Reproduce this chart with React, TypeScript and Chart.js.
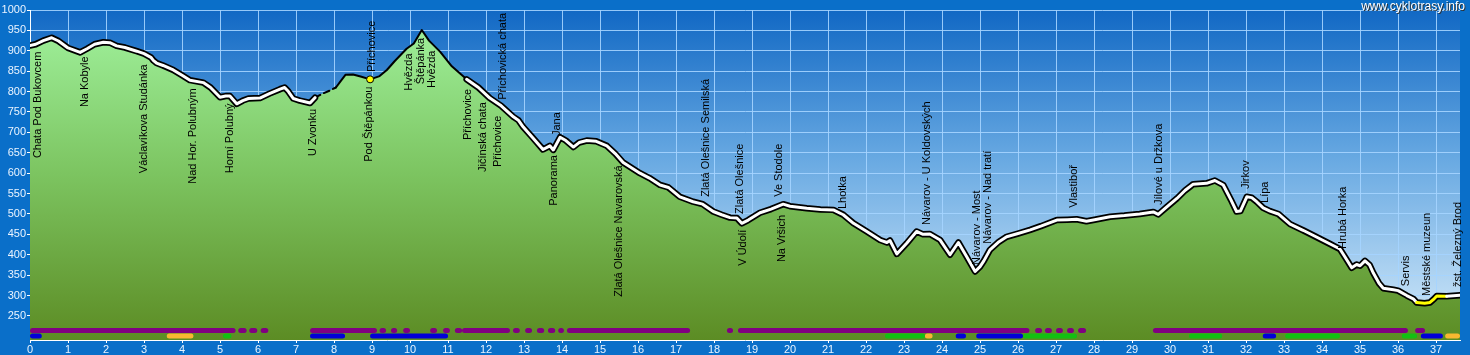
import React, { useEffect, useRef } from "react";
import { Chart, registerables } from "chart.js";

Chart.register(...registerables);

// ---- data ----
const profileKm = [
  0.0, 0.15, 0.35, 0.57, 0.75, 1.0, 1.32, 1.5, 1.7, 1.93, 2.1, 2.28, 2.5, 2.81, 3.0, 3.18, 3.25, 3.33, 3.5, 3.77,
  4.0, 4.21, 4.56, 4.75, 5.0, 5.15, 5.26, 5.44, 5.6, 5.75, 6.05, 6.3, 6.58, 6.7, 6.8, 6.93, 7.1, 7.37, 7.5, 7.7,
  7.9, 8.05, 8.16, 8.3, 8.5, 8.7, 8.95, 9.2, 9.39, 9.6, 9.91, 10.1, 10.31, 10.5, 10.79, 11.1, 11.49, 11.8, 12.1, 12.4,
  12.72, 12.85, 12.98, 13.2, 13.5, 13.68, 13.77, 13.95, 14.1, 14.3, 14.45, 14.65, 14.9, 15.18, 15.4, 15.61, 16.05, 16.3, 16.58, 16.8,
  17.1, 17.45, 17.7, 17.98, 18.2, 18.42, 18.6, 18.73, 18.9, 19.21, 19.5, 19.82, 20.0, 20.44, 20.8, 21.14, 21.4, 21.67, 22.0, 22.37,
  22.55, 22.63, 22.81, 23.07, 23.33, 23.5, 23.68, 23.95, 24.21, 24.43, 24.65, 24.87, 25.0, 25.1, 25.26, 25.5, 25.7, 26.0, 26.32, 26.6,
  27.02, 27.3, 27.54, 27.8, 27.98, 28.42, 28.8, 29.2, 29.56, 29.69, 29.9, 30.18, 30.4, 30.61, 30.96, 31.18, 31.4, 31.6, 31.75, 31.85,
  32.02, 32.15, 32.28, 32.45, 32.63, 32.85, 33.16, 33.5, 33.8, 34.2, 34.47, 34.6, 34.78, 34.91, 35.0, 35.13, 35.25, 35.35, 35.5, 35.61,
  35.88, 36.0, 36.23, 36.4, 36.49, 36.7, 36.84, 36.95, 37.02, 37.28, 37.63,
];
const profileElev = [
  913, 916, 925, 932, 924, 907, 896, 905, 916, 921, 920, 912, 908, 899, 893, 884, 876, 870, 864, 853,
  840, 828, 822, 810, 786, 789, 789, 770, 778, 783, 784, 795, 806, 810, 800, 783, 778, 772, 785, 795,
  803, 810, 824, 841, 842, 837, 830, 838, 853, 875, 905, 918, 951, 925, 898, 862, 830, 810, 784, 765,
  738, 730, 713, 690, 658, 667, 657, 688, 680, 664, 675, 680, 678, 667, 648, 626, 600, 588, 571, 565,
  542, 530, 524, 506, 498, 491, 490, 477, 485, 503, 512, 524, 519, 514, 511, 510, 498, 477, 458, 436,
  430, 435, 402, 428, 457, 450, 451, 436, 400, 430, 395, 359, 371, 385, 412, 432, 444, 452, 461, 470,
  485, 486, 487, 482, 485, 493, 496, 500, 505, 499, 516, 538, 558, 573, 575, 582, 571, 535, 506, 507,
  542, 540, 530, 515, 507, 500, 475, 460, 446, 427, 414, 395, 368, 376, 373, 385, 375, 355, 330, 318,
  314, 312, 300, 292, 283, 281, 283, 292, 299, 298, 301,
];

const xTickValues = [0,1,2,3,4,5,6,7,8,9,10,11,12,13,14,15,16,17,18,19,20,21,22,23,24,25,26,27,28,29,30,31,32,33,34,35,36,37];
const yTickValues = [250,300,350,400,450,500,550,600,650,700,750,800,850,900,950,1000];

const labelNames = [
  "Chata Pod Bukovcem", "Na Kobyle", "Václavíkova Studánka", "Nad Hor. Polubným", "Horní Polubný",
  "U Zvonku", "Pod Štěpánkou", "Příchovice", "Hvězda", "Štěpánka", "Hvězda", "Příchovice",
  "Jičínská chata", "Příchovice", "Příchovická chata", "Jana", "Panorama", "Zlatá Olešnice Navarovská",
  "Zlatá Olešnice Semilská", "Zlatá Olešnice", "V Údolí", "Ve Stodole", "Na Vršich", "Lhotka",
  "Návarov - U Koldovských", "Návarov - Most", "Návarov - Nad tratí", "Vlastiboř", "Jílové u Držkova",
  "Jirkov", "Lípa", "Hrubá Horka", "Servis", "Městské muzeun", "žst. Železný Brod",
];
const labelKm = [
  0.2, 1.45, 2.99, 4.28, 5.26, 7.45, 8.91, 9.0, 9.97, 10.3, 10.57, 11.53, 11.91, 12.32, 12.45, 13.86, 13.8,
  15.51, 17.78, 18.67, 18.76, 19.7, 19.78, 21.39, 23.6, 24.91, 25.21, 27.47, 29.7, 32.01, 32.5, 34.55,
  36.22, 36.75, 37.58,
];
const labelElev = [
  637, 762, 600, 574, 600, 642, 628, 848, 802, 818, 809, 681, 603, 615, 780, 691, 520,
  297, 542, 500, 373, 542, 382, 512, 473, 375, 427, 515, 522, 561, 527, 414,
  323, 299, 321,
];

const purpleBands = [
  [0.0, 5.41], [5.48, 5.7], [5.77, 5.98], [6.07, 6.27],
  [7.37, 9.13], [9.2, 9.37], [9.5, 9.66], [9.82, 10.0], [10.53, 10.71], [10.87, 11.05], [11.18, 11.37],
  [11.37, 12.63], [12.71, 12.89], [13.03, 13.21], [13.34, 13.53], [13.63, 13.82], [13.9, 14.05],
  [14.13, 17.37], [18.34, 18.5], [18.63, 26.3], [26.45, 26.63], [26.71, 26.89], [27.0, 27.18],
  [27.29, 27.47], [27.58, 27.79], [29.55, 36.26], [36.45, 36.71],
];
const blueBands = [[0.0, 0.31], [7.37, 8.29], [8.95, 11.0], [24.36, 24.63], [24.9, 26.13], [32.44, 32.79], [36.6, 37.18]];
const greenBands = [[5.08, 5.3], [22.5, 23.55], [26.13, 27.55], [30.5, 31.37], [33.03, 34.47], [36.1, 36.5]];
const orangeBands = [[3.6, 4.3], [23.55, 23.75], [37.24, 37.63]];

const blackOnlyRange = [7.45, 11.5];
const dashedRange = [7.45, 8.05];
const yellowRange = [36.45, 37.3];
const markerKm = [8.95];
const markerElev = [830];

const purpleLevel = 214;
const lowerLevel = 201;

// ---- helpers ----
const FONT = '"Liberation Sans", Arial, sans-serif';
const capKm = 0.065;

function bandData(bands: number[][], level: number) {
  const out: { x: number; y: number | null }[] = [];
  bands.forEach(([a, b]) => {
    let s = a + capKm;
    let e = b - capKm;
    if (e < s) { const m = (a + b) / 2; s = m; e = m + 0.001; }
    out.push({ x: s, y: level }, { x: e, y: level }, { x: e, y: null });
  });
  return out;
}

const inRange = (k: number, r: number[]) => k >= r[0] && k < r[1];

const bgPlugin = {
  id: "bgPlugin",
  beforeDraw(chart: any) {
    const { ctx, chartArea: a, width, height } = chart;
    ctx.save();
    ctx.fillStyle = "#0a6fc9";
    ctx.fillRect(0, 0, width, height);
    const g = ctx.createLinearGradient(0, a.top, 0, a.bottom);
    g.addColorStop(0, "#1168c4");
    g.addColorStop(0.45, "#68a9e2");
    g.addColorStop(1, "#d6ebfa");
    ctx.fillStyle = g;
    ctx.fillRect(a.left, a.top, a.right - a.left, a.bottom - a.top);
    ctx.restore();
  },
};

const labelPlugin = {
  id: "labelPlugin",
  afterDatasetsDraw(chart: any) {
    const { ctx, scales } = chart;
    ctx.save();
    ctx.font = `11px ${FONT}`;
    ctx.fillStyle = "#000000";
    ctx.textAlign = "left";
    ctx.textBaseline = "middle";
    labelNames.forEach((name, i) => {
      const x = scales.x.getPixelForValue(labelKm[i]);
      const y = scales.y.getPixelForValue(labelElev[i]);
      ctx.save();
      ctx.translate(x, y);
      ctx.rotate(-Math.PI / 2);
      ctx.fillText(name, 0, 0);
      ctx.restore();
    });
    ctx.restore();
  },
  afterDraw(chart: any) {
    const { ctx, width } = chart;
    ctx.save();
    ctx.font = `12px ${FONT}`;
    ctx.textAlign = "right";
    ctx.textBaseline = "top";
    ctx.fillStyle = "#303030";
    ctx.fillText("www.cyklotrasy.info", width - 4, 2);
    ctx.fillStyle = "#ffffff";
    ctx.fillText("www.cyklotrasy.info", width - 5, 1);
    ctx.restore();
  },
};

export default function App() {
  const ref = useRef<HTMLCanvasElement | null>(null);

  useEffect(() => {
    if (!ref.current) return;
    const profile = profileKm.map((k, i) => ({ x: k, y: profileElev[i] }));
    const markers = markerKm.map((k, i) => ({ x: k, y: markerElev[i] }));

    const bandDs = (data: any, color: string, order: number) => ({
      type: "line" as const,
      data,
      borderColor: color,
      borderWidth: 5,
      borderCapStyle: "round",
      pointRadius: 0,
      fill: false,
      spanGaps: false,
      order,
    });

    const chart = new Chart(ref.current, {
      type: "line",
      data: {
        datasets: [
          {
            data: profile,
            borderWidth: 0,
            borderColor: "rgba(0,0,0,0)",
            pointRadius: 0,
            fill: "start",
            backgroundColor: (c: any) => {
              const a = c.chart.chartArea;
              if (!a) return "#7cc460";
              const g = c.chart.ctx.createLinearGradient(0, a.top, 0, a.bottom);
              g.addColorStop(0, "#a2f4a0");
              g.addColorStop(0.5, "#7cc460");
              g.addColorStop(1, "#5c8c24");
              return g;
            },
            order: 10,
          },
          {
            data: profile,
            borderColor: "#000000",
            borderWidth: 6.5,
            borderJoinStyle: "round",
            borderCapStyle: "round",
            pointRadius: 0,
            fill: false,
            segment: {
              borderWidth: (c: any) => {
                const k = (c.p0.parsed.x + c.p1.parsed.x) / 2;
                return inRange(k, blackOnlyRange) ? 2 : undefined;
              },
              borderDash: (c: any) => {
                const k = (c.p0.parsed.x + c.p1.parsed.x) / 2;
                return inRange(k, dashedRange) ? [6, 4] : undefined;
              },
            },
            order: 9,
          },
          {
            data: profile,
            borderColor: "#ffffff",
            borderWidth: 3,
            borderJoinStyle: "round",
            borderCapStyle: "round",
            pointRadius: 0,
            fill: false,
            segment: {
              borderColor: (c: any) => {
                const k = (c.p0.parsed.x + c.p1.parsed.x) / 2;
                if (inRange(k, blackOnlyRange)) return "rgba(0,0,0,0)";
                if (inRange(k, yellowRange)) return "#ffff00";
                return undefined;
              },
            },
            order: 8,
          },
          bandDs(bandData(purpleBands, purpleLevel), "#800080", 7),
          bandDs(bandData(blueBands, lowerLevel), "#0000d8", 6),
          bandDs(bandData(greenBands, lowerLevel), "#12c012", 5),
          bandDs(bandData(orangeBands, lowerLevel), "#f8b830", 4),
          {
            data: markers,
            showLine: false,
            pointRadius: 3.5,
            pointBackgroundColor: "#ffff00",
            pointBorderColor: "#000000",
            pointBorderWidth: 1,
            order: 1,
          },
        ] as any,
      },
      options: {
        animation: false,
        responsive: false,
        devicePixelRatio: 1,
        layout: { padding: { left: 0, right: 10, top: 10, bottom: 0 } },
        plugins: { legend: { display: false }, tooltip: { enabled: false } },
        elements: { line: { tension: 0 } },
        scales: {
          x: {
            type: "linear",
            min: 0,
            max: 37.63,
            afterBuildTicks: (s: any) => { s.ticks = xTickValues.map((v) => ({ value: v })); },
            afterFit: (s: any) => { s.height = 15; },
            grid: { color: "rgba(165,212,255,0.9)", lineWidth: 1, tickLength: 3, tickColor: "#ffffff" },
            border: { color: "#ffffff", width: 1 },
            ticks: {
              autoSkip: false,
              maxRotation: 0,
              padding: 0,
              color: "#eaf4ff",
              font: { family: FONT, size: 11 },
              callback: (v: any) => String(v),
            },
          },
          y: {
            type: "linear",
            min: 191,
            max: 1000,
            afterBuildTicks: (s: any) => { s.ticks = yTickValues.map((v) => ({ value: v })); },
            afterFit: (s: any) => { s.width = 30; },
            grid: { color: "rgba(165,212,255,0.9)", lineWidth: 1, tickLength: 3, tickColor: "#ffffff" },
            border: { color: "#ffffff", width: 1 },
            ticks: {
              padding: 1,
              color: "#eaf4ff",
              font: { family: FONT, size: 11 },
              callback: (v: any) => String(v),
            },
          },
        },
      },
      plugins: [bgPlugin, labelPlugin],
    } as any);
    return () => chart.destroy();
  }, []);

  return (
    <div style={{ position: "fixed", left: 0, top: 0, width: 1470, height: 355 }}>
      <canvas ref={ref} width={1470} height={355} style={{ display: "block", width: 1470, height: 355 }} />
    </div>
  );
}
